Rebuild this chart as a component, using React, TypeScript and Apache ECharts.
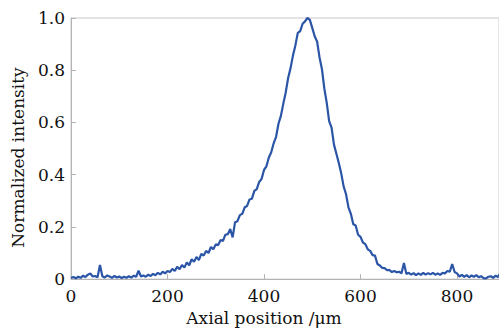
import React, { useEffect, useRef } from "react";
import * as echarts from "echarts";

// Sampling step of the measured profile (µm)
const stepUm = 5;

// Normalized intensity, sampled every 5 µm from 0 to 890 µm
const intensity = [
  0.004, 0.008, 0.003, 0.009, 0.005, 0.013, 0.008, 0.017, 0.022, 0.010,
  0.012, 0.007, 0.054, 0.011, 0.006, 0.014, 0.010, 0.005, 0.012, 0.006,
  0.010, 0.004, 0.009, 0.005, 0.011, 0.006, 0.013, 0.009, 0.032, 0.010,
  0.014, 0.009, 0.017, 0.012, 0.020, 0.015, 0.024, 0.018, 0.028, 0.022,
  0.031, 0.027, 0.039, 0.031, 0.047, 0.038, 0.054, 0.044, 0.064, 0.053,
  0.076, 0.066, 0.085, 0.073, 0.097, 0.090, 0.108, 0.100, 0.123, 0.114,
  0.133, 0.130, 0.150, 0.146, 0.170, 0.172, 0.192, 0.160, 0.218, 0.222,
  0.245, 0.250, 0.275, 0.280, 0.305, 0.308, 0.338, 0.345, 0.372, 0.384,
  0.418, 0.432, 0.466, 0.486, 0.520, 0.545, 0.595, 0.625, 0.672, 0.715,
  0.770, 0.808, 0.856, 0.895, 0.943, 0.950, 0.978, 0.987, 1.000, 0.993,
  0.962, 0.930, 0.910, 0.850, 0.805, 0.730, 0.675, 0.605, 0.580, 0.515,
  0.480, 0.445, 0.405, 0.355, 0.325, 0.275, 0.250, 0.210, 0.205, 0.170,
  0.162, 0.140, 0.134, 0.114, 0.108, 0.092, 0.090, 0.058, 0.052, 0.043,
  0.042, 0.034, 0.035, 0.027, 0.031, 0.026, 0.028, 0.022, 0.062, 0.020,
  0.024, 0.017, 0.023, 0.015, 0.022, 0.016, 0.024, 0.017, 0.023, 0.018,
  0.024, 0.017, 0.022, 0.016, 0.024, 0.022, 0.031, 0.028, 0.058, 0.027,
  0.022, 0.010, 0.016, 0.009, 0.015, 0.007, 0.014, 0.009, 0.015, 0.007,
  0.011, 0.004, 0.003, 0.009, 0.011, 0.005, 0.013, 0.008, 0.024,
];

const xTicks = [0, 200, 400, 600, 800];
const yTicks = [0, 0.2, 0.4, 0.6, 0.8, 1.0];

const FONT = "DejaVu Serif";

export default function App() {
  const ref = useRef<HTMLDivElement>(null);

  useEffect(() => {
    if (!ref.current) return;
    const chart = echarts.init(ref.current, undefined, { renderer: "svg" });
    const data = intensity.map((v, i) => [i * stepUm, v]);
    chart.setOption({
      animation: false,
      backgroundColor: "#ffffff",
      grid: {
        left: 71,
        top: 18,
        right: 0,
        bottom: 51,
        show: true,
        borderColor: "#c8c8c8",
        borderWidth: 1,
      },
      xAxis: {
        type: "value",
        min: 0,
        max: 887,
        interval: xTicks[1] - xTicks[0],
        name: "Axial position /μm",
        nameLocation: "middle",
        nameGap: 26,
        nameTextStyle: {
          fontFamily: FONT,
          fontSize: 17,
          color: "#111",
          padding: [0, 42, 0, 0],
        },
        axisLine: { show: true, lineStyle: { color: "#b4b4b4", width: 1 } },
        axisTick: { show: true, inside: true, length: 5, lineStyle: { color: "#b4b4b4" } },
        axisLabel: {
          fontFamily: FONT,
          fontSize: 17,
          color: "#111",
          margin: 8,
          showMaxLabel: false,
          formatter: (v: number) => (xTicks.includes(v) ? String(v) : ""),
        },
        splitLine: { show: false },
      },
      yAxis: {
        type: "value",
        min: 0,
        max: 1,
        interval: 0.2,
        name: "Normalized intensity",
        nameLocation: "middle",
        nameGap: 45,
        nameTextStyle: {
          fontFamily: FONT,
          fontSize: 17,
          color: "#111",
          padding: [0, 18, 0, 0],
        },
        axisLine: { show: true, lineStyle: { color: "#b4b4b4", width: 1 } },
        axisTick: { show: true, inside: true, length: 5, lineStyle: { color: "#b4b4b4" } },
        axisLabel: {
          fontFamily: FONT,
          fontSize: 17,
          color: "#111",
          margin: 6,
          formatter: (v: number) => {
            const t = yTicks.find((y) => Math.abs(y - v) < 1e-6);
            if (t === undefined) return "";
            return t === 0 ? "0" : t.toFixed(1);
          },
        },
        splitLine: { show: false },
      },
      series: [
        {
          type: "line",
          data,
          showSymbol: false,
          symbol: "none",
          lineStyle: { color: "#2b55a7", width: 2.2 },
          clip: true,
        },
      ],
    });
    return () => chart.dispose();
  }, []);

  return (
    <div
      ref={ref}
      style={{ width: 499, height: 331, position: "absolute", left: 0, top: 0 }}
    />
  );
}
